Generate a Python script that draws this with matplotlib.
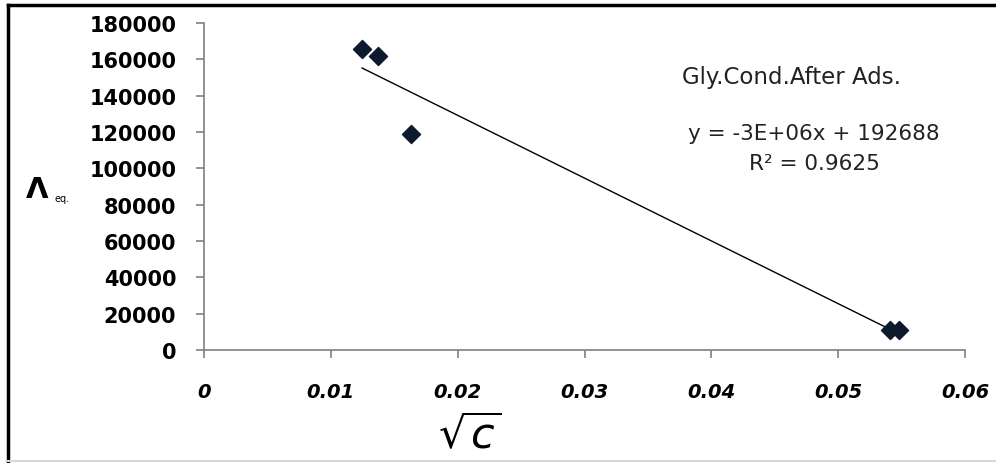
import numpy as np
import matplotlib
matplotlib.use("Agg")
import matplotlib.pyplot as plt
from matplotlib.lines import Line2D

# data
sqrt_c = [0.01246, 0.01372, 0.01632, 0.0541, 0.0548]
lambda_eq = [165700, 161800, 118900, 11000, 11000]
x_ticks = [0, 0.01, 0.02, 0.03, 0.04, 0.05, 0.06]
y_ticks = [0, 20000, 40000, 60000, 80000, 100000, 120000, 140000, 160000, 180000]

fig = plt.figure(figsize=(9.96, 4.64), dpi=100)
ax = fig.add_axes([0.2048, 0.2435, 0.969 - 0.2048, 0.948 - 0.2435])

ax.scatter(sqrt_c, lambda_eq, marker="D", s=85, color="#0d1a2e", zorder=3)

# linear trend line across the data range
slope, intercept = np.polyfit(sqrt_c, lambda_eq, 1)
xs = np.array([min(sqrt_c), max(sqrt_c)])
ax.plot(xs, slope * xs + intercept, color="black", linewidth=1)

ax.set_xlim(0, 0.06)
ax.set_ylim(0, 180000)
ax.set_xticks(x_ticks)
ax.set_yticks(y_ticks)
ax.set_xticklabels(["0", "0.01", "0.02", "0.03", "0.04", "0.05", "0.06"],
                   fontsize=14, fontweight="bold", style="italic")
ax.set_yticklabels([str(v) for v in y_ticks], fontsize=15, fontweight="bold")

for s in ["top", "right"]:
    ax.spines[s].set_visible(False)
for s in ["left", "bottom"]:
    ax.spines[s].set_color("#808080")
    ax.spines[s].set_linewidth(1.2)
ax.tick_params(axis="both", direction="out", length=6, color="#808080", width=1.2)
ax.tick_params(axis="y", pad=14)
ax.tick_params(axis="x", pad=17)

txt_color = "#222222"
ax.text(0.0463, 150500, "Gly.Cond.After Ads.", fontsize=16.5, ha="center", va="center",
        color=txt_color)
ax.text(0.0481, 119500, "y = -3E+06x + 192688", fontsize=15.5, ha="center", va="center",
        color=txt_color)
ax.text(0.0481, 103000, "R² = 0.9625", fontsize=15.5, ha="center", va="center",
        color=txt_color)

fig.text(0.037, 1 - 190 / 464, r"$\mathbf{\Lambda}$", fontsize=21, ha="center", va="center")
fig.text(0.062, 1 - 199 / 464, "eq.", fontsize=7, ha="center", va="center")
fig.text(0.472, 1 - 437 / 464, r"$\sqrt{c}$", fontsize=31, ha="center", va="center")

# outer frame: dark left and top edges, faint bottom edge
fig.lines.append(Line2D([0.008, 0.008], [0.004, 0.987], transform=fig.transFigure,
                        color="black", linewidth=2.5))
fig.lines.append(Line2D([0.008, 1.0], [0.987, 0.987], transform=fig.transFigure,
                        color="black", linewidth=2.5))
fig.lines.append(Line2D([0.008, 1.0], [0.004, 0.004], transform=fig.transFigure,
                        color="#d8d8d8", linewidth=1.5))

fig.savefig("out.png", dpi=100)
